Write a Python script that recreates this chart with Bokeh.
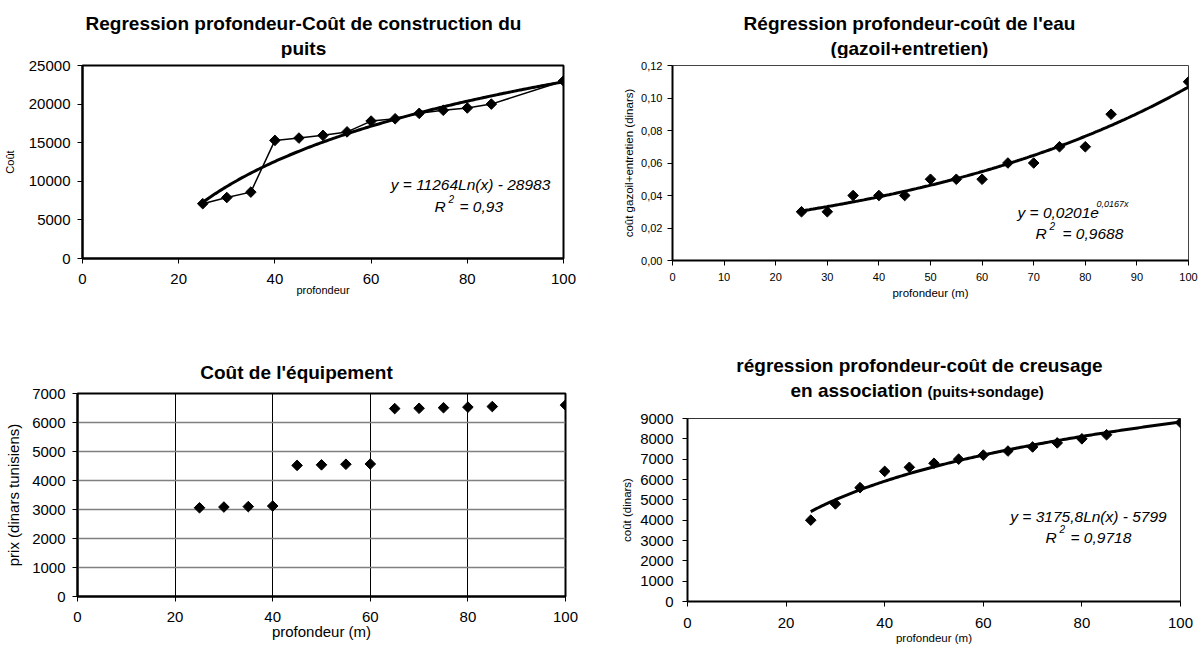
import numpy as np
from bokeh.plotting import figure
from bokeh.models import Range1d, FixedTicker, Label, CustomJSTickFormatter
from bokeh.layouts import column, row
from bokeh.embed import file_html
from bokeh.resources import INLINE

FONT = "Liberation Sans"

# ---------------- data ----------------
depth = [25, 30, 35, 40, 45, 50, 55, 60, 65, 70, 75, 80, 85, 100]
cout_puits = [7100, 7900, 8600, 15300, 15600, 15950, 16400, 17800, 18100, 18800, 19200, 19500, 20000, 23000]
cout_eau = [0.030, 0.030, 0.040, 0.040, 0.040, 0.050, 0.050, 0.050, 0.060, 0.060, 0.070, 0.070, 0.090, 0.110]
cout_equip = [3060, 3085, 3100, 3120, 4520, 4540, 4560, 4570, 6480, 6490, 6510, 6530, 6550, 6600]
cout_creusage = [4000, 4800, 5600, 6400, 6600, 6800, 7000, 7200, 7400, 7600, 7800, 8000, 8200, 8800]

# trendline coefficients as printed on the charts
puits_a, puits_b = 11264, -28983          # y = a ln(x) + b
eau_a, eau_k = 0.0201, 0.0167             # y = a exp(k x)
creus_a, creus_b = 3175.8, -5799          # y = a ln(x) + b
trend_x = np.linspace(min(depth), max(depth), 200)

x_ticks_20 = [0, 20, 40, 60, 80, 100]
x_ticks_10 = [0, 10, 20, 30, 40, 50, 60, 70, 80, 90, 100]
y_ticks_puits = [0, 5000, 10000, 15000, 20000, 25000]
y_ticks_eau = [0, 0.02, 0.04, 0.06, 0.08, 0.10, 0.12]
y_ticks_equip = [0, 1000, 2000, 3000, 4000, 5000, 6000, 7000]
y_ticks_creus = [0, 1000, 2000, 3000, 4000, 5000, 6000, 7000, 8000, 9000]

TITLE = 19
EQ = 15.5


def make_fig(origin, W, H, left, top, fw, fh, xr, yr, xticks, yticks, tsize, xst, yst,
             xlabel, ylabel, lsize, xlst, ylst):
    p = figure(width=W, height=H, output_backend="svg", toolbar_location=None,
               x_range=Range1d(*xr), y_range=Range1d(*yr),
               min_border_left=left, min_border_top=top,
               min_border_right=W - left - fw, min_border_bottom=H - top - fh)
    p.background_fill_color = "white"
    p.border_fill_color = "white"
    p.xgrid.visible = False
    p.ygrid.visible = False
    for ax, ticks, st, lab, lst in ((p.xaxis[0], xticks, xst, xlabel, xlst),
                                    (p.yaxis[0], yticks, yst, ylabel, ylst)):
        ax.ticker = FixedTicker(ticks=ticks)
        ax.major_tick_in = 0
        ax.major_tick_out = 5
        ax.minor_tick_in = 0
        ax.minor_tick_out = 0
        ax.axis_line_width = 2
        ax.axis_line_color = "black"
        ax.major_tick_line_color = "black"
        ax.major_tick_line_width = 1
        ax.major_label_text_font = FONT
        ax.major_label_text_font_size = f"{tsize}px"
        ax.major_label_text_color = "black"
        ax.major_label_standoff = st
        ax.axis_label = lab
        ax.axis_label_text_font = FONT
        ax.axis_label_text_font_size = f"{lsize}px"
        ax.axis_label_text_font_style = "normal"
        ax.axis_label_text_color = "black"
        ax.axis_label_standoff = lst
    p._geom = (origin, left, top, fw, fh, xr, yr)
    return p


def strip(origin, W, H):
    s = figure(width=W, height=H, output_backend="svg", toolbar_location=None,
               x_range=Range1d(0, W), y_range=Range1d(H, 0),
               x_axis_location=None, y_axis_location=None, min_border=0)
    s.outline_line_color = None
    s.background_fill_color = "white"
    s.border_fill_color = "white"
    s.grid.visible = False
    s._geom = (origin, 0, 0, W, H, (0, W), (H, 0))
    return s


def txt(p, px, py, text, size, style="normal", align="center", angle=0.0):
    (ox, oy), left, top, fw, fh, xr, yr = p._geom
    cx, cy = px - ox, py - oy
    x = xr[0] + (cx - left) / fw * (xr[1] - xr[0])
    y = yr[0] + (top + fh - cy) / fh * (yr[1] - yr[0])
    p.add_layout(Label(x=x, y=y, text=text, text_font=FONT, text_font_size=f"{size}px",
                       text_font_style=style, text_align=align, text_baseline="middle",
                       angle=angle, text_color="black"))


def diamonds(p, xs, ys):
    p.scatter(xs, ys, marker="square", angle=np.pi / 4, size=7.5,
              fill_color="black", line_color="black")


# ---------------- chart 1 ----------------
t1 = strip((0, 0), 600, 58)
txt(t1, 303, 23, "Regression profondeur-Coût de construction du", TITLE, "bold")
txt(t1, 303, 48, "puits", TITLE, "bold")

p1 = make_fig((0, 58), 600, 272, 82, 7, 481, 193, (0, 100), (0, 25000),
              x_ticks_20, y_ticks_puits, 15, 10, 7, "profondeur", "Coût", 11, -3, 10)
p1.outline_line_color = "black"
p1.outline_line_width = 2
p1.line(trend_x, puits_a * np.log(trend_x) + puits_b, line_color="black", line_width=3)
p1.line(depth, cout_puits, line_color="black", line_width=1.5)
diamonds(p1, depth, cout_puits)
txt(p1, 470, 184, "y = 11264Ln(x) - 28983", EQ, "italic")
txt(p1, 434, 206, "R", EQ, "italic", "left")
txt(p1, 448, 198, "2", 10, "italic", "left")
txt(p1, 459, 206, "= 0,93", EQ, "italic", "left")

# ---------------- chart 2 ----------------
t2 = strip((600, 0), 604, 58)
txt(t2, 909, 23, "Régression profondeur-coût de l'eau", TITLE, "bold")
txt(t2, 909, 48, "(gazoil+entretien)", TITLE, "bold")

p2 = make_fig((600, 58), 604, 272, 72, 7, 516, 195, (0, 100), (0, 0.12),
              x_ticks_10, y_ticks_eau, 11, 7, 5, "profondeur (m)",
              "coût gazoil+entretien (dinars)", 11.5, 3, 3)
p2.yaxis[0].formatter = CustomJSTickFormatter(code="return tick.toFixed(2).replace('.', ',');")
p2.outline_line_color = "#444444"
p2.outline_line_width = 1
p2.line(trend_x, eau_a * np.exp(eau_k * trend_x), line_color="black", line_width=3)
diamonds(p2, depth, cout_eau)
txt(p2, 1017, 212, "y = 0,0201e", EQ, "italic", "left")
txt(p2, 1096, 203, "0,0167x", 9, "italic", "left")
txt(p2, 1035, 233, "R", EQ, "italic", "left")
txt(p2, 1049, 225, "2", 10, "italic", "left")
txt(p2, 1062, 233, "= 0,9688", EQ, "italic", "left")

# ---------------- chart 3 ----------------
t3 = strip((0, 330), 600, 55)
txt(t3, 296, 372, "Coût de l'équipement", TITLE, "bold")

p3 = make_fig((0, 385), 600, 261, 77, 8, 488, 203, (0, 100), (0, 7000),
              x_ticks_20, y_ticks_equip, 15, 10, 7, "profondeur (m)",
              "prix (dinars tunisiens)", 15, -2, 7)
p3.xgrid.visible = True
p3.xgrid.ticker = FixedTicker(ticks=x_ticks_20)
p3.xgrid.grid_line_color = "black"
p3.xgrid.grid_line_width = 1
p3.ygrid.visible = True
p3.ygrid.ticker = FixedTicker(ticks=y_ticks_equip)
p3.ygrid.grid_line_color = "#808080"
p3.ygrid.grid_line_width = 1.6
p3.outline_line_color = "black"
p3.outline_line_width = 2
diamonds(p3, depth, cout_equip)

# ---------------- chart 4 ----------------
t4 = strip((600, 330), 604, 70)
txt(t4, 919, 365, "régression profondeur-coût de creusage", TITLE, "bold")
txt(t4, 922, 390, "en association", TITLE, "bold", "right")
txt(t4, 927, 391, "(puits+sondage)", 15, "bold", "left")

p4 = make_fig((600, 400), 604, 246, 87, 18, 493, 185, (0, 100), (0, 9000),
              x_ticks_20, y_ticks_creus, 15, 11, 9, "profondeur (m)",
              "coût (dinars)", 11.5, 1, 4)
p4.outline_line_color = "#333333"
p4.outline_line_width = 1
p4.line(trend_x, creus_a * np.log(trend_x) + creus_b, line_color="black", line_width=3)
diamonds(p4, depth, cout_creusage)
txt(p4, 1088, 517, "y = 3175,8Ln(x) - 5799", EQ, "italic")
txt(p4, 1045, 538, "R", EQ, "italic", "left")
txt(p4, 1059, 530, "2", 10, "italic", "left")
txt(p4, 1070, 538, "= 0,9718", EQ, "italic", "left")

left_col = column(row(t1), row(p1), row(t3), row(p3))
right_col = column(row(t2), row(p2), row(t4), row(p4))
layout = row(left_col, right_col)
open("out.html", "w").write(file_html(layout, INLINE))
